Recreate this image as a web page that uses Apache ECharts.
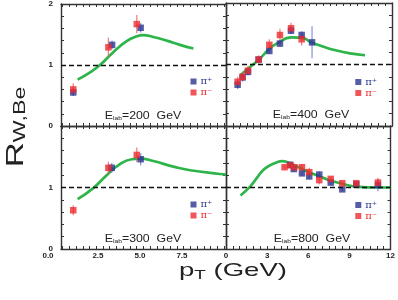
<!DOCTYPE html>
<html><head><meta charset="utf-8">
<script src="https://cdn.jsdelivr.net/npm/echarts@6/dist/echarts.min.js"></script>
<style>html,body{margin:0;padding:0;background:#fff}#c{width:398px;height:300px}</style>
</head><body><div id="c"></div>
<script>
// ---------------- data ----------------
const curve200 = [[1.29,0.76],[2.03,0.88],[2.62,1.0],[3.41,1.21],[4.21,1.39],[4.81,1.47],[5.2,1.49],[5.79,1.46],[6.59,1.40],[7.38,1.33],[8.18,1.27]];
const piPlus200 = [[1.03,0.55,0.06],[3.34,1.33,0.07],[5.04,1.61,0.08]];
const piMinus200 = [[1.03,0.60,0.10],[3.12,1.29,0.16],[4.81,1.67,0.15]];

const curve300 = [[1.29,0.81],[2.22,0.99],[3.02,1.20],[3.81,1.38],[4.51,1.46],[5.0,1.47],[5.79,1.43],[6.98,1.34],[7.98,1.28],[9.76,1.22],[10.12,1.21]];
const piPlus300 = [[3.32,1.32,0.08],[5.04,1.46,0.10]];
const piMinus300 = [[1.03,0.63,0.08],[3.12,1.32,0.10],[4.81,1.53,0.12]];

const curve400 = [[1.06,0.83],[1.74,0.96],[2.39,1.08],[3.06,1.24],[3.66,1.34],[4.75,1.44],[5.59,1.43],[6.07,1.37],[7.04,1.29],[7.76,1.24],[8.97,1.18],[10.05,1.15]];
const piPlus400 = [[0.84,0.67,0.07],[1.2,0.79,0.05],[1.59,0.88,0.05],[2.36,1.08,0.05],[3.13,1.22,0.05],[3.9,1.34,0.05],[4.7,1.55,0.06],[5.47,1.48,0.06],[6.22,1.36,0.26]];
const piMinus400 = [[0.84,0.72,0.08],[1.2,0.80,0.08],[1.59,0.90,0.08],[2.36,1.08,0.07],[3.13,1.32,0.09],[3.9,1.48,0.10],[4.7,1.59,0.09],[5.47,1.41,0.10]];

const curve800 = [[1.06,0.87],[1.74,1.01],[2.2,1.14],[2.7,1.28],[3.2,1.36],[3.6,1.40],[4.1,1.43],[4.6,1.40],[5.1,1.35],[6.07,1.25],[7.28,1.14],[8.48,1.06],[9.69,1.01],[10.9,1.0],[12,1.0]];
const piPlus800 = [[4.68,1.37,0.04],[4.94,1.30,0.04],[5.54,1.23,0.04],[6.07,1.18,0.04],[6.8,1.21,0.05],[7.64,1.08,0.04],[8.48,0.97,0.03],[9.5,1.05,0.04],[11.08,1.04,0.10]];
const piMinus800 = [[4.27,1.33,0.03],[4.68,1.36,0.04],[4.99,1.33,0.04],[5.54,1.33,0.05],[6.07,1.25,0.07],[6.8,1.12,0.07],[7.64,1.14,0.04],[8.48,1.07,0.03],[9.5,1.07,0.03],[11.08,1.08,0.08]];

const energies = ['200','400','300','800'];
const leftXLabels = [2.5, 5.0, 7.5];
const rightXLabels = [0, 3, 6, 9, 12];
const yLabelsTop = [0, 1, 2];
const yLabelsBottom = [0, 1];
const nameP = 'π⁺', nameM = 'π⁻';

// ---------------- styling ----------------
const blue = '#2b3590', red = '#ec2a2e', green = '#2db44b';
const ink = '#333';
const FF = 'Liberation Sans';
const grids = [
  {left:61, top:3, width:165, height:123},
  {left:226, top:3, width:166, height:123},
  {left:61, top:126, width:165, height:123},
  {left:226, top:126, width:166, height:123}
];
const panelData = [
  {curve:curve200, plus:piPlus200, minus:piMinus200},
  {curve:curve400, plus:piPlus400, minus:piMinus400},
  {curve:curve300, plus:piPlus300, minus:piMinus300},
  {curve:curve800, plus:piPlus800, minus:piMinus800}
];
function steps(a, b, s){ const r=[]; for(let v=a; v<=b+1e-9; v+=s) r.push(+v.toFixed(3)); return r; }
const ticksLeftX = steps(0.4, 10.0, 0.4);
const ticksRightX = steps(0.5, 11.5, 0.5);
const ticksY = steps(0.2, 1.8, 0.2);

const xAxes = [], yAxes = [];
grids.forEach((g, i) => {
  const isLeft = (i % 2 === 0), isBottom = i >= 2;
  const xr = isLeft ? {min:0.3, max:10.12} : {min:0, max:12};
  const xt = isLeft ? ticksLeftX : ticksRightX;
  ['bottom','top'].forEach(pos => {
    const showLab = pos === 'bottom' && isBottom;
    xAxes.push(Object.assign({
      type:'value', gridIndex:i, position:pos,
      axisLine:{show:true, onZero:false, lineStyle:{color:ink, width:1.4}},
      axisTick:{show:true, inside:true, length:3, customValues:xt, lineStyle:{color:ink, width:1}},
      splitLine:{show:false},
      axisLabel:{show:showLab, customValues: isLeft ? leftXLabels : rightXLabels,
        formatter: v => isLeft ? v.toFixed(1) : String(v),
        fontSize:8, fontWeight:'bold', color:'#222', fontFamily:FF, margin:3}
    }, xr));
  });
  ['left','right'].forEach(pos => {
    const showLab = pos === 'left' && isLeft;
    yAxes.push({
      type:'value', gridIndex:i, position:pos, min:0, max:2,
      axisLine:{show:true, onZero:false, lineStyle:{color:ink, width:1.4}},
      axisTick:{show:true, inside:true, length:3, customValues:ticksY, lineStyle:{color:ink, width:1}},
      splitLine:{show:false},
      axisLabel:{show:showLab, customValues: isBottom ? yLabelsBottom : yLabelsTop,
        formatter: v => String(v),
        fontSize:8, fontWeight:'bold', color:'#222', fontFamily:FF, margin:8}
    });
  });
});

function errSeries(data, i, color){
  return {
    type:'custom', xAxisIndex:2*i, yAxisIndex:2*i, data:data, encode:{x:0, y:1}, z:3, silent:true,
    renderItem:(params, api) => {
      const x = api.value(0), y = api.value(1), e = api.value(2);
      const p1 = api.coord([x, y - e]), p2 = api.coord([x, y + e]);
      return {type:'line', shape:{x1:p1[0], y1:p1[1], x2:p2[0], y2:p2[1]}, style:{stroke:color, lineWidth:1.3}};
    }
  };
}
const series = [];
panelData.forEach((p, i) => {
  series.push({
    type:'line', xAxisIndex:2*i, yAxisIndex:2*i, data:p.curve, smooth:true, showSymbol:false, symbol:'none',
    lineStyle:{color:green, width:2.7}, z:2, silent:true,
    markLine:{silent:true, symbol:'none', label:{show:false}, animation:false,
      lineStyle:{color:'#111', type:[5,3], width:1.3}, data:[{yAxis:1}]}
  });
  series.push(errSeries(p.plus, i, 'rgba(110,120,200,0.75)'));
  series.push(errSeries(p.minus, i, 'rgba(240,90,95,0.75)'));
  series.push({type:'scatter', name:nameP, xAxisIndex:2*i, yAxisIndex:2*i, data:p.plus.map(d=>[d[0],d[1]]),
    symbol:'rect', symbolSize:6.5, itemStyle:{color:blue}, z:4});
  series.push({type:'scatter', name:nameM, xAxisIndex:2*i, yAxisIndex:2*i, data:p.minus.map(d=>[d[0],d[1]]),
    symbol:'rect', symbolSize:6.5, itemStyle:{color:red}, z:5});
});

const legPos = [[190.5,76.5],[355.3,77],[190.5,199.5],[355.3,200]];
const legends = legPos.map(lp => ({
  left:lp[0], top:lp[1], orient:'vertical', icon:'rect', itemWidth:6, itemHeight:6, itemGap:1,
  selectedMode:false, padding:0,
  textStyle:{fontSize:10, fontFamily:'DejaVu Serif', padding:[0,0,0,-1]},
  data:[{name:nameP, textStyle:{color:blue}}, {name:nameM, textStyle:{color:red}}]
}));

const labPos = [[143,116],[311,115],[143,239],[312,239]];
const graphics = labPos.map((lp, i) => ({
  type:'text', x:lp[0], y:lp[1], scaleX:1.12, z:10,
  style:{text:'{a|E}{b|lab}{a|=' + energies[i] + '  GeV}', align:'center', verticalAlign:'middle',
    rich:{a:{fontSize:11, fontFamily:FF, fill:'#222', fontWeight:'normal'},
          b:{fontSize:6, fontFamily:FF, fill:'#222', verticalAlign:'bottom', padding:[5,0,0,0]}}}
}));
graphics.push({type:'text', x:48, y:255.5, z:10,
  style:{text:'0.0', align:'center', verticalAlign:'middle', fontSize:8, fontWeight:'bold', fill:'#222', fontFamily:FF}});
graphics.push({type:'text', x:16, y:127, rotation:Math.PI/2, scaleX:1.45, z:10,
  style:{text:'{R|R}{s|W,Be}', align:'center', verticalAlign:'middle',
    rich:{R:{fontSize:24, fontFamily:FF, fill:'#222'}, s:{fontSize:16, fontFamily:FF, fill:'#222', verticalAlign:'bottom', padding:[9,0,0,0]}}}});
graphics.push({type:'text', x:233, y:271, scaleX:1.45, z:10,
  style:{text:'{p|p}{t|T}{p| (GeV)}', align:'center', verticalAlign:'middle',
    rich:{p:{fontSize:19, fontFamily:FF, fill:'#222'}, t:{fontSize:13, fontFamily:FF, fill:'#222', verticalAlign:'bottom', padding:[9,0,0,0]}}}});

const chart = echarts.init(document.getElementById('c'), null, {renderer:'canvas'});
chart.setOption({
  animation:false, backgroundColor:'#fff',
  grid:grids, xAxis:xAxes, yAxis:yAxes, series:series, legend:legends, graphic:graphics
});
</script></body></html>
